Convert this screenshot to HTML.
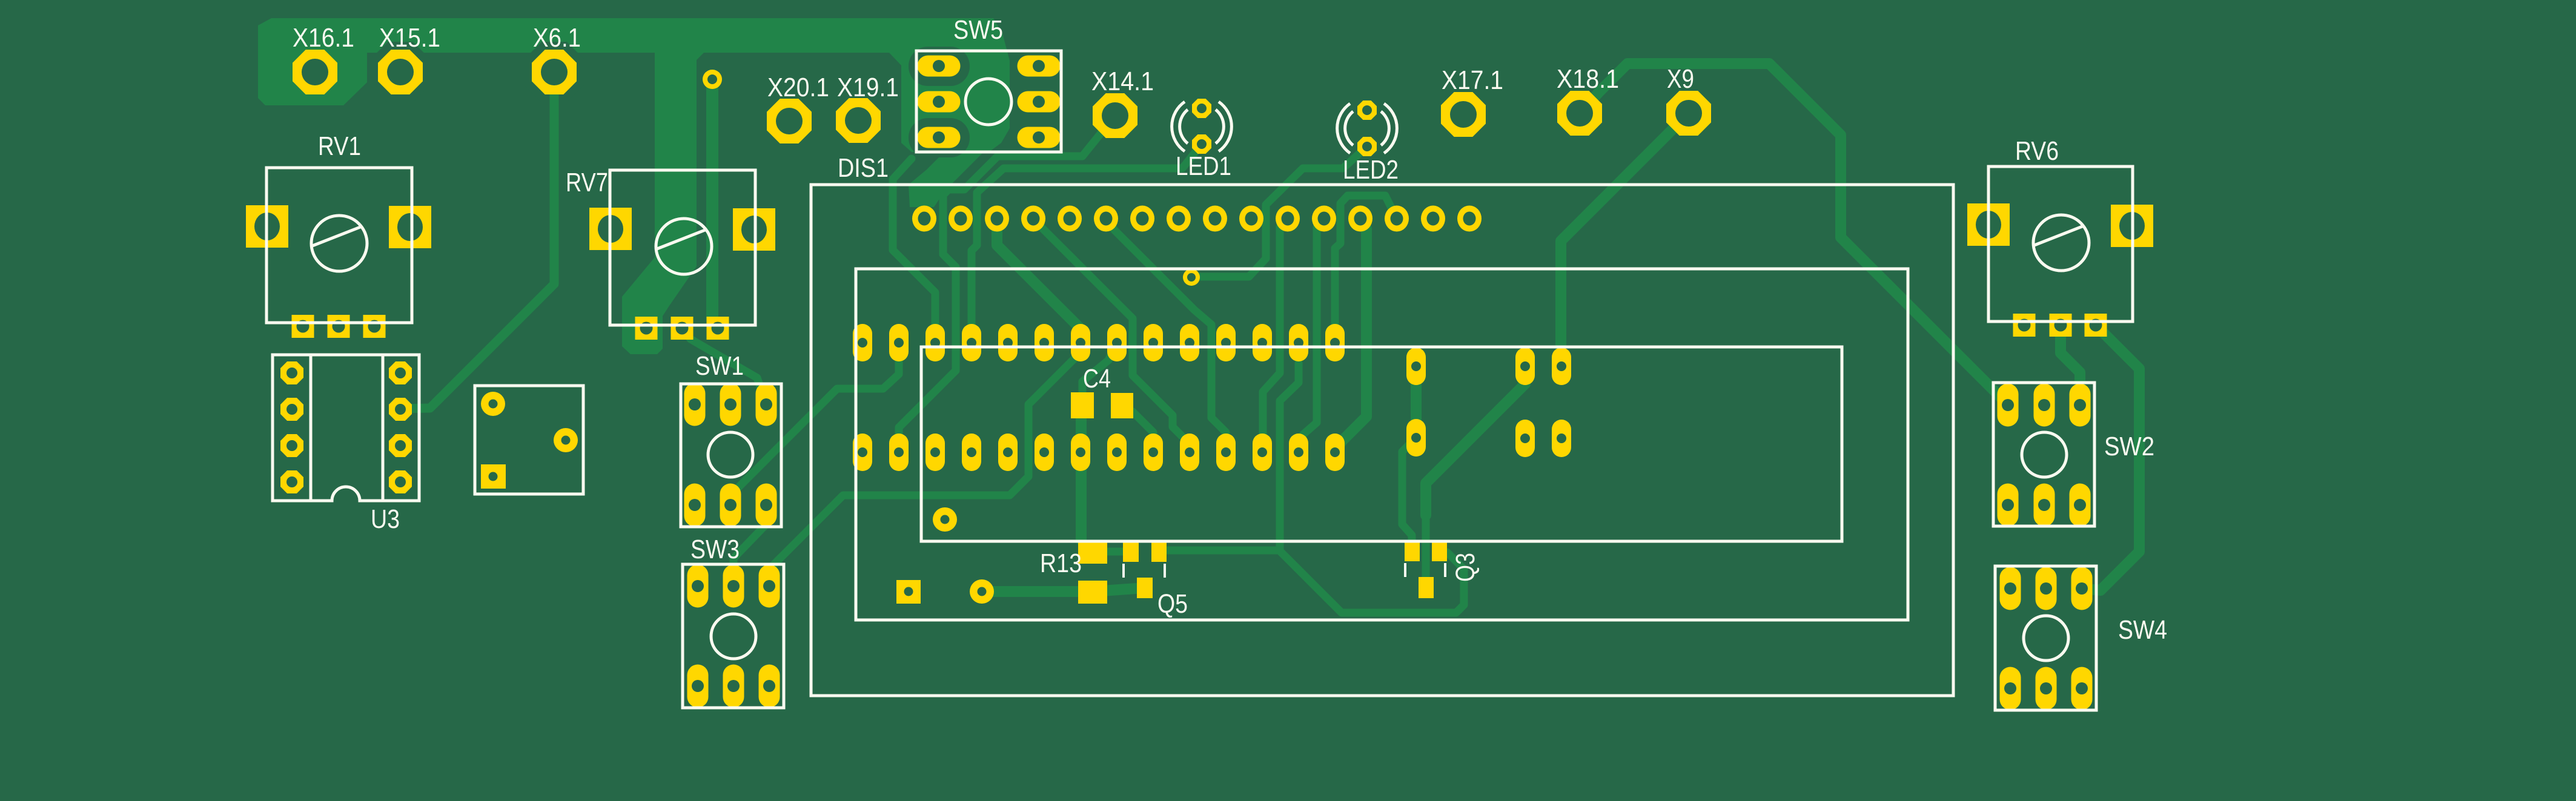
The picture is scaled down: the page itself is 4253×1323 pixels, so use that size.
<!DOCTYPE html>
<html><head><meta charset="utf-8"><style>
html,body{margin:0;padding:0;background:#266848;overflow:hidden}
svg{display:block}
text{font-family:"Liberation Sans","DejaVu Sans",sans-serif;font-size:44px;fill:#fafaf0}
</style></head><body>
<svg xmlns="http://www.w3.org/2000/svg" width="4253" height="1323" viewBox="0 0 4253 1323">
<defs>
<g id="xp"><polygon fill="#ffd700" points="-15.3,-37 15.3,-37 37,-15.3 37,15.3 15.3,37 -15.3,37 -37,15.3 -37,-15.3"/><circle r="22" fill="#266848"/></g>
<g id="up"><polygon fill="#ffd700" points="-7.9,-19 7.9,-19 19,-7.9 19,7.9 7.9,19 -7.9,19 -19,7.9 -19,-7.9"/><circle r="9" fill="#266848"/></g>
<g id="lp"><polygon fill="#ffd700" points="-6.6,-16 6.6,-16 16,-6.6 16,6.6 6.6,16 -6.6,16 -16,6.6 -16,-6.6"/><circle r="8" fill="#266848"/></g>
<g id="sv"><rect x="-17.5" y="-35.5" width="35" height="71" rx="17.5" fill="#ffd700"/><circle r="10" fill="#266848"/></g>
<g id="sh"><rect x="-35.5" y="-17.5" width="71" height="35" rx="17.5" fill="#ffd700"/><circle r="10" fill="#266848"/></g>
<g id="dv"><rect x="-16" y="-31" width="32" height="62" rx="16" fill="#ffd700"/><circle r="8" fill="#266848"/></g>
<g id="dr"><ellipse rx="20" ry="21.5" fill="#ffd700"/><ellipse rx="10.5" ry="11.5" fill="#266848"/></g>
<g id="rb"><rect x="-35" y="-35" width="70" height="70" fill="#ffd700"/><ellipse rx="21" ry="23" fill="#266848"/></g>
<g id="rs"><rect x="-18.5" y="-19" width="37" height="38" fill="#ffd700"/><circle r="10.5" fill="#266848"/></g>
<g id="rp"><circle r="20" fill="#ffd700"/><circle r="7.5" fill="#266848"/></g>
</defs>

<rect width="4253" height="1323" fill="#266848"/>

<!-- copper fill -->
<g fill="#218449">
<polygon points="448,30 1640,30 1655,55 1667,100 1667,212 1653,236 1633,251 1505,251 1488,236 1488,108 1468,87 1162,87 1150,99 1150,440 1105,505 1094,522 1094,576 1085,585 1041,585 1027,572 1027,490 1081,425 1081,87 606,87 606,136 567,174 438,174 426,162 426,42"/>
<polygon points="1560,250 1625,250 1560,315 1542,342 1502,342 1500,305 1530,280"/>
</g>
<!-- clearances -->
<g fill="#266848">
<polygon transform="translate(661,119)" points="-20.7,-50 20.7,-50 50,-20.7 50,20.7 20.7,50 -20.7,50 -50,20.7 -50,-20.7"/>
<polygon transform="translate(915,119)" points="-20.7,-50 20.7,-50 50,-20.7 50,20.7 20.7,50 -20.7,50 -50,20.7 -50,-20.7"/>
<rect x="1500" y="77" width="101" height="65" rx="32"/>
<rect x="1500" y="195" width="101" height="65" rx="32"/>
</g>

<!-- traces -->
<g fill="none" stroke="#218449" stroke-linejoin="round" stroke-linecap="round">
<g stroke-width="18">
<polyline points="2608,187 2640,152 2687,105 2921,105 3039,223 3039,392 3300,653 3315,669"/>
<polyline points="2788,187 2577,398 2577,605"/>
<polyline points="3460,537 3532,609 3532,911 3468,975 3437,972"/>
<polyline points="3402,537 3402,583 3434,615 3434,669"/>
<polyline points="2518,605 2518,634 2354,798 2354,851"/>
<polyline points="2338,605 2338,723"/>
<polyline points="2246,361 2256,378 2256,688 2215,729 2204,747"/>
<polyline points="1646,361 1646,405 1785,544 1785,566"/>
<polyline points="1785,660 1785,892"/>
<polyline points="1621,977 1804,977 1890,971"/>
</g>
<g stroke-width="13">
<polyline points="2354,851 2354,960"/>
<polyline points="2331,894 2331,884 2315,866 2315,746 2333,728"/>
<polyline points="2389,912 2417,940 2417,999 2404,1012 2215,1012 2112,909 1913,909"/>
<polyline points="2144,600 2144,632 2113,662 2113,909"/>
<polyline points="2126,361 2113,375 2113,616 2085,647 2085,718"/>
<polyline points="2186,361 2174,375 2174,698 2151,718 2144,740"/>
<polyline points="2306,361 2287,323 2225,323 2213,336 2213,402 2204,410 2204,566"/>
<polyline points="2257,242 2217,278 2151,278 2090,338 2090,427 2062,457 1967,457"/>
<polyline points="1984,238 1952,278 1657,278 1613,318 1613,405 1604,414 1604,566"/>
<polyline points="1841,191 1787,258 1647,258 1592,313 1566,313 1557,322 1557,420 1578,441 1578,612 1484,706 1484,747"/>
<polyline points="1505,262 1474,296 1474,413 1544,483 1544,566"/>
<polyline points="1706,361 1722,378 1870,526 1870,620 1936,686 1936,705 1962,731 1964,747"/>
<polyline points="1826,361 1840,380 1972,512 2000,536 2000,690 2024,714 2024,747"/>
<polyline points="1270,968 1270,940 1392,818 1667,818 1698,787 1698,668 1774,592 1785,566"/>
<polyline points="1484,566 1484,618 1458,642 1382,642 1212,812 1206,834"/>
<polyline points="1265,834 1265,866 1211,922 1211,968"/>
<polyline points="1127,542 1140,560 1250,624 1265,668"/>
<polyline points="1804,911 1867,911"/>
<polyline points="1853,670 1870,680 1904,714 1904,747"/>
<polyline points="1787,648 1787,630 1830,595 1844,566"/>
</g>
<polyline stroke-width="20" points="1176,131 1176,528 1185,542"/>
<polyline stroke-width="15" points="915,119 915,469 710,674 661,675"/>
</g>

<!-- through-hole pads -->
<use href="#xp" x="520" y="119"/><use href="#xp" x="661" y="119"/><use href="#xp" x="915" y="119"/>
<use href="#xp" x="1303" y="200"/><use href="#xp" x="1417" y="199"/><use href="#xp" x="1841" y="191"/>
<use href="#xp" x="2416" y="189"/><use href="#xp" x="2608" y="187"/><use href="#xp" x="2788" y="187"/>

<!-- vias -->
<circle cx="1176" cy="131" r="16" fill="#ffd700"/><circle cx="1176" cy="131" r="8" fill="#266848"/>
<circle cx="1967" cy="458" r="14" fill="#ffd700"/><circle cx="1967" cy="458" r="7" fill="#266848"/>

<!-- SW5 -->
<use href="#sh" x="1550" y="109"/><use href="#sh" x="1550" y="168"/><use href="#sh" x="1550" y="227"/>
<use href="#sh" x="1715" y="109"/><use href="#sh" x="1715" y="168"/><use href="#sh" x="1715" y="227"/>

<!-- LEDs -->
<use href="#lp" x="1984" y="179"/><use href="#lp" x="1984" y="238"/>
<use href="#lp" x="2257" y="182"/><use href="#lp" x="2257" y="242"/>

<!-- RV pads -->
<use href="#rb" x="441" y="374"/><use href="#rb" x="677" y="375"/>
<use href="#rs" x="500" y="539"/><use href="#rs" x="559" y="539"/><use href="#rs" x="618" y="539"/>
<use href="#rb" x="1008" y="378"/><use href="#rb" x="1245" y="379"/>
<use href="#rs" x="1067" y="542"/><use href="#rs" x="1126" y="542"/><use href="#rs" x="1185" y="542"/>
<use href="#rb" x="3283" y="371"/><use href="#rb" x="3520" y="373"/>
<use href="#rs" x="3342" y="537"/><use href="#rs" x="3402" y="537"/><use href="#rs" x="3460" y="537"/>

<!-- U3 -->
<use href="#up" x="482" y="616"/><use href="#up" x="482" y="676"/><use href="#up" x="482" y="736"/><use href="#up" x="482" y="796"/>
<use href="#up" x="661" y="616"/><use href="#up" x="661" y="676"/><use href="#up" x="661" y="736"/><use href="#up" x="661" y="796"/>

<!-- 3-pin component -->
<use href="#rp" x="814" y="667"/><use href="#rp" x="934" y="727"/>
<rect x="794" y="767" width="41" height="40" fill="#ffd700"/><circle cx="814" cy="787" r="7.5" fill="#266848"/>

<!-- SW1 SW3 SW2 SW4 -->
<use href="#sv" x="1147" y="668"/><use href="#sv" x="1206" y="668"/><use href="#sv" x="1265" y="668"/>
<use href="#sv" x="1147" y="834"/><use href="#sv" x="1206" y="834"/><use href="#sv" x="1265" y="834"/>
<use href="#sv" x="1152" y="968"/><use href="#sv" x="1211" y="968"/><use href="#sv" x="1270" y="968"/>
<use href="#sv" x="1152" y="1133"/><use href="#sv" x="1211" y="1133"/><use href="#sv" x="1270" y="1133"/>
<use href="#sv" x="3315" y="669"/><use href="#sv" x="3375" y="669"/><use href="#sv" x="3434" y="669"/>
<use href="#sv" x="3315" y="834"/><use href="#sv" x="3375" y="834"/><use href="#sv" x="3434" y="834"/>
<use href="#sv" x="3319" y="972"/><use href="#sv" x="3378" y="972"/><use href="#sv" x="3437" y="972"/>
<use href="#sv" x="3319" y="1137"/><use href="#sv" x="3378" y="1137"/><use href="#sv" x="3437" y="1137"/>

<!-- DIS1 connector round pads -->
<use href="#dr" x="1526" y="361"/><use href="#dr" x="1586" y="361"/><use href="#dr" x="1646" y="361"/><use href="#dr" x="1706" y="361"/>
<use href="#dr" x="1766" y="361"/><use href="#dr" x="1826" y="361"/><use href="#dr" x="1886" y="361"/><use href="#dr" x="1946" y="361"/>
<use href="#dr" x="2006" y="361"/><use href="#dr" x="2066" y="361"/><use href="#dr" x="2126" y="361"/><use href="#dr" x="2186" y="361"/>
<use href="#dr" x="2246" y="361"/><use href="#dr" x="2306" y="361"/><use href="#dr" x="2366" y="361"/><use href="#dr" x="2426" y="361"/>

<!-- DIP oval pads -->
<use href="#dv" x="1424" y="566"/><use href="#dv" x="1484" y="566"/><use href="#dv" x="1544" y="566"/><use href="#dv" x="1604" y="566"/>
<use href="#dv" x="1664" y="566"/><use href="#dv" x="1724" y="566"/><use href="#dv" x="1784" y="566"/><use href="#dv" x="1844" y="566"/>
<use href="#dv" x="1904" y="566"/><use href="#dv" x="1964" y="566"/><use href="#dv" x="2024" y="566"/><use href="#dv" x="2084" y="566"/>
<use href="#dv" x="2144" y="566"/><use href="#dv" x="2204" y="566"/>
<use href="#dv" x="1424" y="747"/><use href="#dv" x="1484" y="747"/><use href="#dv" x="1544" y="747"/><use href="#dv" x="1604" y="747"/>
<use href="#dv" x="1664" y="747"/><use href="#dv" x="1724" y="747"/><use href="#dv" x="1784" y="747"/><use href="#dv" x="1844" y="747"/>
<use href="#dv" x="1904" y="747"/><use href="#dv" x="1964" y="747"/><use href="#dv" x="2024" y="747"/><use href="#dv" x="2084" y="747"/>
<use href="#dv" x="2144" y="747"/><use href="#dv" x="2204" y="747"/>
<use href="#dv" x="2338" y="605"/><use href="#dv" x="2338" y="723"/>
<use href="#dv" x="2518" y="605"/><use href="#dv" x="2578" y="605"/><use href="#dv" x="2518" y="724"/><use href="#dv" x="2578" y="724"/>

<!-- other DIS1 pads -->
<rect x="1480" y="958" width="40" height="39" fill="#ffd700"/><circle cx="1500" cy="977" r="7.5" fill="#266848"/>
<use href="#rp" x="1621" y="977"/><use href="#rp" x="1560" y="858"/>

<!-- SMD pads -->
<g fill="#ffd700">
<rect x="1768" y="648" width="38" height="43"/><rect x="1834" y="649" width="37" height="42"/>
<rect x="1780" y="892" width="48" height="39"/><rect x="1780" y="959" width="48" height="38"/>
<rect x="1854" y="894" width="26" height="34"/><rect x="1901" y="894" width="25" height="34"/><rect x="1877" y="954" width="26" height="34"/>
<rect x="2319" y="892" width="25" height="35"/><rect x="2364" y="892" width="25" height="35"/><rect x="2342" y="953" width="25" height="35"/>
</g>

<!-- silkscreen -->
<g fill="none" stroke="#fafaf0" stroke-width="5">
<rect x="440" y="277" width="240" height="256"/>
<rect x="1007" y="281" width="240" height="256"/>
<rect x="3283" y="275" width="238" height="256"/>
<circle cx="560" cy="402" r="46"/><line x1="514.5" y1="406.5" x2="596.6" y2="374.3"/>
<circle cx="1129" cy="407" r="46"/><line x1="1083.5" y1="411.5" x2="1165.6" y2="379.3"/>
<circle cx="3403" cy="401" r="46"/><line x1="3357.5" y1="405.5" x2="3439.6" y2="373.3"/>
<rect x="1339" y="305" width="1886" height="844"/>
<rect x="1413" y="444" width="1737" height="580"/>
<rect x="1521" y="573" width="1520" height="321"/>
<rect x="1513" y="84" width="239" height="167"/><circle cx="1632" cy="168" r="38"/>
<rect x="1124" y="634" width="166" height="236"/><circle cx="1206" cy="751" r="37"/>
<rect x="1127" y="932" width="167" height="237"/><circle cx="1211" cy="1051" r="37"/>
<rect x="3291" y="632" width="167" height="237"/><circle cx="3375" cy="751" r="37"/>
<rect x="3294" y="935" width="167" height="238"/><circle cx="3378" cy="1054" r="37"/>
<rect x="784" y="637" width="179" height="179"/>
<path d="M450,586 H692 V827 H594 A23,23 0 0 0 548,827 H450 Z"/>
<path d="M513,586 V827 M632,586 V827"/>
<path d="M1956,168 A50,50 0 0 0 1956,250 M1961,181 A36,36 0 0 0 1961,237 M2012,168 A50,50 0 0 1 2012,250 M2007,181 A36,36 0 0 1 2007,237"/>
<path d="M2229,171 A50,50 0 0 0 2229,253 M2234,184 A36,36 0 0 0 2234,240 M2285,171 A50,50 0 0 1 2285,253 M2280,184 A36,36 0 0 1 2280,240"/>
<path stroke-width="4" d="M1855,931 V954 M1923,931 V954 M2320,930 V953 M2386,930 V953"/>
</g>

<!-- labels -->
<text x="483" y="77" textLength="102" lengthAdjust="spacingAndGlyphs">X16.1</text>
<text x="626" y="77" textLength="101" lengthAdjust="spacingAndGlyphs">X15.1</text>
<text x="880" y="77" textLength="79" lengthAdjust="spacingAndGlyphs">X6.1</text>
<text x="1267" y="159" textLength="102" lengthAdjust="spacingAndGlyphs">X20.1</text>
<text x="1382" y="159" textLength="102" lengthAdjust="spacingAndGlyphs">X19.1</text>
<text x="1574" y="64" textLength="82" lengthAdjust="spacingAndGlyphs">SW5</text>
<text x="1802" y="149" textLength="103" lengthAdjust="spacingAndGlyphs">X14.1</text>
<text x="1941" y="289" textLength="92" lengthAdjust="spacingAndGlyphs">LED1</text>
<text x="2217" y="295" textLength="92" lengthAdjust="spacingAndGlyphs">LED2</text>
<text x="2380" y="147" textLength="102" lengthAdjust="spacingAndGlyphs">X17.1</text>
<text x="2570" y="145" textLength="103" lengthAdjust="spacingAndGlyphs">X18.1</text>
<text x="2752" y="145" textLength="45" lengthAdjust="spacingAndGlyphs">X9</text>
<text x="525" y="256" textLength="71" lengthAdjust="spacingAndGlyphs">RV1</text>
<text x="934" y="316" textLength="70" lengthAdjust="spacingAndGlyphs">RV7</text>
<text x="1383" y="292" textLength="84" lengthAdjust="spacingAndGlyphs">DIS1</text>
<text x="3327" y="264" textLength="72" lengthAdjust="spacingAndGlyphs">RV6</text>
<text x="1148" y="619" textLength="80" lengthAdjust="spacingAndGlyphs">SW1</text>
<text x="1140" y="922" textLength="81" lengthAdjust="spacingAndGlyphs">SW3</text>
<text x="3474" y="752" textLength="83" lengthAdjust="spacingAndGlyphs">SW2</text>
<text x="3497" y="1055" textLength="81" lengthAdjust="spacingAndGlyphs">SW4</text>
<text x="612" y="872" textLength="48" lengthAdjust="spacingAndGlyphs">U3</text>
<text x="1788" y="640" textLength="46" lengthAdjust="spacingAndGlyphs">C4</text>
<text x="1717" y="945" textLength="69" lengthAdjust="spacingAndGlyphs">R13</text>
<text x="1911" y="1012" textLength="50" lengthAdjust="spacingAndGlyphs">Q5</text>
<text transform="translate(2418,937) rotate(-90)" x="-24" y="16" textLength="48" lengthAdjust="spacingAndGlyphs">Q3</text>
</svg>
</body></html>
